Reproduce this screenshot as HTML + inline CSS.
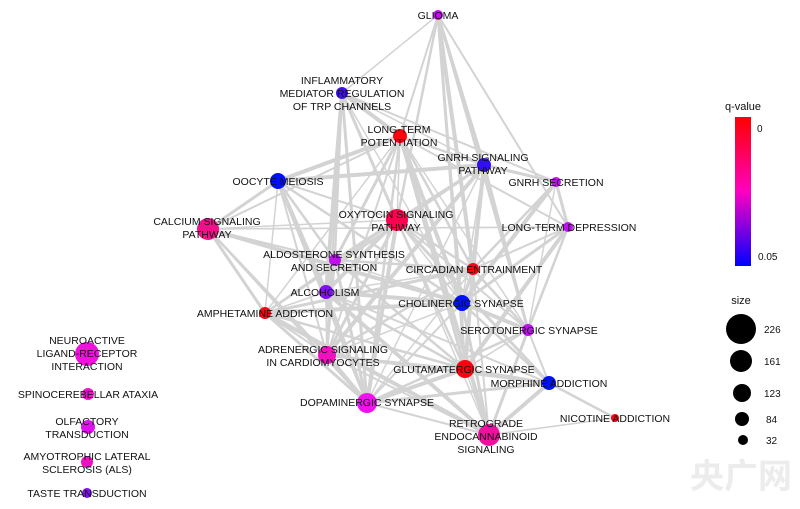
<!DOCTYPE html>
<html><head><meta charset="utf-8"><style>
body{margin:0;background:#fff;width:800px;height:509px;overflow:hidden}
svg{display:block}
text{font-family:"Liberation Sans",sans-serif;font-size:10.5px;fill:#111}
.lab{text-anchor:middle}
</style></head><body>
<svg id="s" width="800" height="509" xmlns="http://www.w3.org/2000/svg">
<defs><linearGradient id="q" x1="0" y1="0" x2="0" y2="1">
<stop offset="0" stop-color="#ff0000"/><stop offset="0.5" stop-color="#ff00c0"/><stop offset="1" stop-color="#0000ff"/></linearGradient></defs>
<g id="edges" stroke="#d3d3d3" stroke-linecap="round"></g>
<g id="nodes"></g>
<g class="lab">
<text x="438" y="19">GLIOMA</text>
<text x="342" y="84">INFLAMMATORY</text><text x="342" y="97">MEDIATOR REGULATION</text><text x="342" y="110">OF TRP CHANNELS</text>
<text x="399" y="133">LONG-TERM</text><text x="399" y="146">POTENTIATION</text>
<text x="483" y="161">GNRH SIGNALING</text><text x="483" y="174">PATHWAY</text>
<text x="556" y="186">GNRH SECRETION</text>
<text x="278" y="185">OOCYTE MEIOSIS</text>
<text x="207" y="225">CALCIUM SIGNALING</text><text x="207" y="238">PATHWAY</text>
<text x="396" y="218">OXYTOCIN SIGNALING</text><text x="396" y="231">PATHWAY</text>
<text x="569" y="231">LONG-TERM DEPRESSION</text>
<text x="334" y="258">ALDOSTERONE SYNTHESIS</text><text x="334" y="271">AND SECRETION</text>
<text x="474" y="273">CIRCADIAN ENTRAINMENT</text>
<text x="325" y="296">ALCOHOLISM</text>
<text x="461" y="307">CHOLINERGIC SYNAPSE</text>
<text x="265" y="317">AMPHETAMINE ADDICTION</text>
<text x="529" y="334">SEROTONERGIC SYNAPSE</text>
<text x="323" y="353">ADRENERGIC SIGNALING</text><text x="323" y="366">IN CARDIOMYOCYTES</text>
<text x="464" y="373">GLUTAMATERGIC SYNAPSE</text>
<text x="549" y="387">MORPHINE ADDICTION</text>
<text x="367" y="406">DOPAMINERGIC SYNAPSE</text>
<text x="615" y="422">NICOTINE ADDICTION</text>
<text x="486" y="427">RETROGRADE</text><text x="486" y="440">ENDOCANNABINOID</text><text x="486" y="453">SIGNALING</text>
<text x="87" y="344">NEUROACTIVE</text><text x="87" y="357">LIGAND-RECEPTOR</text><text x="87" y="370">INTERACTION</text>
<text x="88" y="398">SPINOCEREBELLAR ATAXIA</text>
<text x="87" y="425">OLFACTORY</text><text x="87" y="438">TRANSDUCTION</text>
<text x="87" y="460">AMYOTROPHIC LATERAL</text><text x="87" y="473">SCLEROSIS (ALS)</text>
<text x="87" y="497">TASTE TRANSDUCTION</text>
</g>
<text x="743" y="110" class="lab" style="font-size:11px">q-value</text>
<rect x="735" y="117" width="16" height="149" fill="url(#q)"/>
<text x="757" y="132" style="font-size:10px">0</text>
<text x="758" y="260" style="font-size:10px">0.05</text>
<text x="741" y="304" class="lab" style="font-size:11px">size</text>
<circle cx="741" cy="329" r="15" fill="#000"/><text x="764" y="333" style="font-size:10px">226</text>
<circle cx="741" cy="361" r="11" fill="#000"/><text x="764" y="365" style="font-size:10px">161</text>
<circle cx="742" cy="393" r="9" fill="#000"/><text x="764" y="397" style="font-size:10px">123</text>
<circle cx="742" cy="419" r="7" fill="#000"/><text x="766" y="423" style="font-size:10px">84</text>
<circle cx="743" cy="440" r="5" fill="#000"/><text x="766" y="444" style="font-size:10px">32</text>
<text x="690" y="488" style="font-size:34px;fill:#ececec;font-family:'Liberation Sans','Noto Sans CJK SC',sans-serif;font-weight:bold">央广网</text>
</svg>
<script>
var N={G:[438,15,5,'#c010f0'],I:[342,93,6,'#4010f0'],L:[400,136,7,'#ff0010'],GS:[484,165,7,'#3010f0'],GR:[556,182,5,'#c010f0'],O:[278,181,8,'#0010ff'],CA:[208,229,11,'#f0108a'],OX:[397,220,11,'#ff0050'],LD:[568,227,5,'#c010f0'],AL:[335,260,6,'#c010f0'],CI:[473,269,6,'#ff0010'],AC:[326,292,7,'#8010f0'],CH:[462,303,8,'#0010ff'],AM:[265,313,6,'#ff0010'],SE:[528,330,6,'#c010f0'],AD:[327,355,9,'#f010c0'],GL:[465,369,9,'#ff0010'],MO:[549,383,7,'#0010ff'],DO:[367,403,10,'#f010f0'],NI:[615,418,4,'#ff0010'],RE:[489,435,11,'#f010a0'],
NA:[87,354,12,'#f010e0'],SP:[88,394,6,'#f010d0'],OL:[88,427,7,'#e010f0'],AS:[87,462,6,'#f010c0'],TA:[87,493,5,'#8010f0']};
var E="G-I G-L G-GS G-OX G-CI G-CH G-LD G-GL G-SE I-L I-GS I-GR I-OX I-AD I-AC I-CH I-AL I-DO L-GS L-O L-OX L-CA L-AL L-CI L-CH L-AM L-AD L-GL L-DO L-RE L-SE L-LD GS-GR GS-OX GS-CI GS-CH GS-GL GS-SE GS-AM GS-AD GS-DO GS-O GR-LD GR-CI GR-CH GR-SE LD-CI LD-CH LD-SE LD-GL LD-CA O-OX O-CA O-AL O-AC O-AM O-AD O-DO O-CH O-GS CA-OX CA-AL CA-AM CA-AD CA-CH CA-LD CA-DO OX-AL OX-CI OX-AC OX-CH OX-AM OX-AD OX-GL OX-DO OX-RE OX-SE OX-MO AL-CI AL-AC AL-CH AL-AD AL-DO AL-GL AC-CH AC-AM AC-AD AC-DO AC-GL AC-RE AC-CI AC-MO CI-CH CI-SE CI-GL CI-DO CI-RE CI-AM CI-AD CH-SE CH-GL CH-DO CH-RE CH-MO CH-AM CH-AD AM-AD AM-DO AM-GL AM-RE SE-GL SE-MO SE-RE SE-DO AD-DO AD-GL AD-RE AD-MO GL-MO GL-DO GL-RE DO-RE DO-MO MO-NI MO-RE RE-NI".split(' ');
var ns="http://www.w3.org/2000/svg",eg=document.getElementById('edges'),ng=document.getElementById('nodes');
E.forEach(function(e,i){var p=e.split('-'),a=N[p[0]],b=N[p[1]],l=document.createElementNS(ns,'line');
l.setAttribute('x1',a[0]);l.setAttribute('y1',a[1]);l.setAttribute('x2',b[0]);l.setAttribute('y2',b[1]);
l.setAttribute('stroke-width',[1.5,2,3,2.5,4][i%5]);eg.appendChild(l);});
for(var k in N){var n=N[k],c=document.createElementNS(ns,'circle');c.setAttribute('cx',n[0]);c.setAttribute('cy',n[1]);c.setAttribute('r',n[2]);c.setAttribute('fill',n[3]);ng.appendChild(c);}
</script>
</body></html>
